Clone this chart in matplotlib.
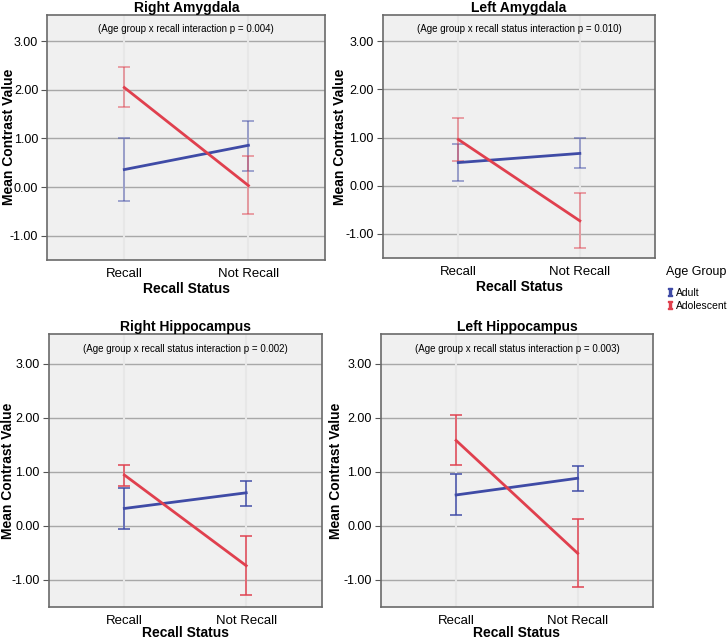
import matplotlib.pyplot as plt
import numpy as np
from matplotlib.lines import Line2D

plt.rcParams['font.family'] = ['Liberation Sans', 'DejaVu Sans']

categories = ["Recall", "Not Recall"]
titles = ["Right Amygdala", "Left Amygdala", "Right Hippocampus", "Left Hippocampus"]
notes = ["(Age group x recall interaction p = 0.004)",
         "(Age group x recall status interaction p = 0.010)",
         "(Age group x recall status interaction p = 0.002)",
         "(Age group x recall status interaction p = 0.003)"]

# means, upper and lower error bar ends, per panel
adult_mean = [[0.36, 0.86], [0.48, 0.67], [0.32, 0.61], [0.57, 0.88]]
adult_hi = [[1.01, 1.37], [0.86, 0.99], [0.69, 0.83], [0.95, 1.10]]
adult_lo = [[-0.28, 0.34], [0.10, 0.36], [-0.06, 0.37], [0.20, 0.65]]

adol_mean = [[2.05, 0.03], [0.96, -0.73], [0.94, -0.74], [1.58, -0.51]]
adol_hi = [[2.48, 0.63], [1.41, -0.16], [1.13, -0.19], [2.05, 0.12]]
adol_lo = [[1.64, -0.55], [0.51, -1.29], [0.73, -1.29], [1.12, -1.14]]

blue = "#3f4ba6"
red = "#e0404e"

fig = plt.figure(figsize=(7.28, 6.4), dpi=100)
boxes = [[0.065, 0.594, 0.382, 0.383],
         [0.526, 0.597, 0.374, 0.380],
         [0.067, 0.052, 0.375, 0.426],
         [0.523, 0.052, 0.374, 0.426]]
ylab_x = [-0.112, -0.132, -0.122, -0.14]

x = np.arange(2)
for i, b in enumerate(boxes):
    ax = fig.add_axes(b)
    ax.set_facecolor("#f0f0f0")
    top_row = i < 2
    eb_alpha = 0.55 if top_row else 0.9
    for m, hi, lo, c in [(adult_mean[i], adult_hi[i], adult_lo[i], blue),
                         (adol_mean[i], adol_hi[i], adol_lo[i], red)]:
        m = np.array(m)
        err = [m - np.array(lo), np.array(hi) - m]
        ax.errorbar(x, m, yerr=err, fmt="none", ecolor=c, elinewidth=1.2,
                    capsize=4.5, capthick=1.2, alpha=eb_alpha, zorder=3)
        ax.plot(x, m, color=c, lw=2, zorder=4)
    ax.set_xlim(-0.62, 1.62)
    ax.set_ylim(-1.5, 3.55)
    ax.set_yticks([-1, 0, 1, 2, 3])
    ax.set_yticklabels(["-1.00", "0.00", "1.00", "2.00", "3.00"], fontsize=9)
    ax.set_xticks(x)
    ax.set_xticklabels(categories, fontsize=9.5)
    ax.yaxis.grid(True, color="#a8a8a8", lw=1)
    for xv in x:
        ax.axvline(xv, color="#e7e7e7", lw=1.5, zorder=1)
    ax.set_axisbelow(True)
    ax.tick_params(axis="x", length=0, pad=6)
    ax.tick_params(axis="y", length=4, color="#555555", pad=2.5)
    for s in ax.spines.values():
        s.set_color("#6a6a6a")
        s.set_linewidth(1.2)
    ax.set_title(titles[i], fontsize=10, fontweight="bold", pad=2)
    ax.text(0.5, 0.963, notes[i], transform=ax.transAxes, ha="center", va="top", fontsize=7)
    ax.set_ylabel("Mean Contrast Value", fontsize=10, fontweight="bold")
    ax.yaxis.set_label_coords(ylab_x[i], 0.5)
    ax.set_xlabel("Recall Status", fontsize=10, fontweight="bold",
                  labelpad=1 if top_row else -1)

handles = [Line2D([], [], color=blue, marker="$\\mathtt{I}$", ls="none", markersize=6),
           Line2D([], [], color=red, marker="$\\mathtt{I}$", ls="none", markersize=6)]
leg = fig.legend(handles, ["Adult", "Adolescent"], loc="upper left",
                 bbox_to_anchor=(0.905, 0.596), frameon=False, fontsize=7.5,
                 title="Age Group", title_fontsize=9, handletextpad=0.1,
                 handlelength=0.8, labelspacing=0.3, borderpad=0.2)
leg._legend_box.align = "left"
leg._legend_box.sep = 7

fig.savefig("out.png", dpi=100)
